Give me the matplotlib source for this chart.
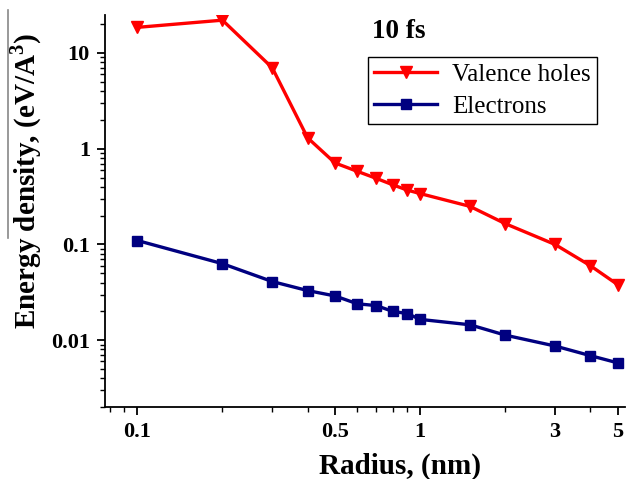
import matplotlib
matplotlib.use('Agg')
import matplotlib.pyplot as plt
from matplotlib.ticker import FixedLocator, LogLocator, NullFormatter, FixedFormatter
from matplotlib.lines import Line2D

radius = [0.1, 0.2, 0.3, 0.4, 0.5, 0.6, 0.7, 0.8, 0.9, 1.0, 1.5, 2.0, 3.0, 4.0, 5.0]
holes = [18.5, 22.0, 7.0, 1.3, 0.71, 0.58, 0.49, 0.42, 0.37, 0.34, 0.25, 0.165, 0.10, 0.06, 0.038]
electrons = [0.11, 0.063, 0.041, 0.033, 0.029, 0.024, 0.023, 0.020, 0.019, 0.0165,
             0.0145, 0.0113, 0.0087, 0.0069, 0.0058]

xticks = [0.1, 0.5, 1, 3, 5]
xticklabels = ['0.1', '0.5', '1', '3', '5']
yticks = [0.01, 0.1, 1, 10]
yticklabels = ['0.01', '0.1', '1', '10']

plt.rcParams['font.family'] = ['Liberation Serif', 'DejaVu Serif']
plt.rcParams['mathtext.fontset'] = 'custom'
plt.rcParams['mathtext.rm'] = 'Liberation Serif'
plt.rcParams['mathtext.bf'] = 'Liberation Serif:bold'

fig = plt.figure(figsize=(6.3, 4.79), dpi=100)
ax = fig.add_axes([0.167, 0.150, 0.825, 0.819])

ax.plot(radius, holes, color='#ff0000', lw=2.4, marker='v', ms=9, label='Valence holes')
ax.plot(radius, electrons, color='#000080', lw=2.4, marker='s', ms=7.5, label='Electrons')

ax.set_xscale('log')
ax.set_yscale('log')
ax.set_xlim(0.077, 5.3)
ax.set_ylim(0.002, 25)

ax.xaxis.set_major_locator(FixedLocator(xticks))
ax.xaxis.set_major_formatter(FixedFormatter(xticklabels))
ax.xaxis.set_minor_locator(LogLocator(base=10, subs=range(2, 10)))
ax.xaxis.set_minor_formatter(NullFormatter())
ax.yaxis.set_major_locator(FixedLocator(yticks))
ax.yaxis.set_major_formatter(FixedFormatter(yticklabels))
ax.yaxis.set_minor_locator(LogLocator(base=10, subs=range(2, 10)))
ax.yaxis.set_minor_formatter(NullFormatter())

for s in ['top', 'right']:
    ax.spines[s].set_visible(False)
for s in ['left', 'bottom']:
    ax.spines[s].set_linewidth(1.3)

ax.tick_params(which='major', direction='out', length=6, width=1.3, labelsize=16, pad=5)
ax.tick_params(which='minor', direction='out', length=3.5, width=1.0)
for lab in ax.get_xticklabels() + ax.get_yticklabels():
    lab.set_fontweight('bold')

ax.set_xlabel('Radius, (nm)', fontsize=21, fontweight='bold')
ax.set_ylabel(r'Energy density, (eV/A$^{\mathbf{3}}$)', fontsize=21, fontweight='bold')
ax.xaxis.set_label_coords(0.567, -0.115)
ax.yaxis.set_label_coords(-0.118, 0.577)

ax.text(0.513, 0.941, '10 fs', transform=ax.transAxes, fontsize=19.5, fontweight='bold')

handles = [Line2D([], [], color='#ff0000', lw=2.4, marker='v', ms=9),
           Line2D([], [], color='#000080', lw=2.4, marker='s', ms=7.5)]
leg = ax.legend(handles, ['Valence holes', 'Electrons'], loc='upper left',
                bbox_to_anchor=(0.506, 0.893), borderaxespad=0, fontsize=18,
                frameon=True, fancybox=False, edgecolor='black',
                handlelength=2.5, handletextpad=0.6, borderpad=0.25,
                labelspacing=0.38, framealpha=1)
leg.get_frame().set_linewidth(1.0)

# thin vertical rule at left edge seen in the reference
fig.add_artist(Line2D([0.013, 0.013], [0.503, 0.979], color='#888888', lw=1.2))

fig.savefig('out.png', dpi=100)
